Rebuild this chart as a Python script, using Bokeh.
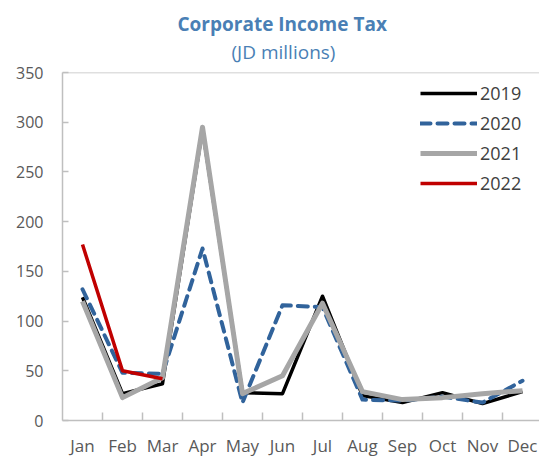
from bokeh.plotting import figure
from bokeh.models import (Range1d, FixedTicker, Title, Legend, LegendItem, Span)
from bokeh.embed import file_html
from bokeh.resources import INLINE

months = ["Jan", "Feb", "Mar", "Apr", "May", "Jun", "Jul", "Aug", "Sep", "Oct", "Nov", "Dec"]
y2019 = [124, 27, 37, 293, 28, 27, 125, 25, 18, 28, 17, 29]
y2020 = [132, 48, 47, 173, 18, 116, 114, 21, 20, 24, 18, 40]
y2021 = [120, 23, 43, 295, 27, 45, 118, 29, 21, 23, 27, 30]
y2022 = [177, 50, 42]
y_ticks = [0, 50, 100, 150, 200, 250, 300, 350]

xpos = [i + 0.5 for i in range(len(months))]

p = figure(width=539, height=459, output_backend="svg", toolbar_location=None,
           x_range=Range1d(0, 11.925), y_range=Range1d(0, 350),
           min_border_left=62, min_border_right=0, min_border_bottom=37, min_border_top=72)
p.outline_line_color = None
p.xgrid.visible = False
p.ygrid.visible = False
p.background_fill_color = "white"

FONT = "Open Sans"
TITLE_COLOR = "#4a7fb5"
spacer = Title(text=" ", text_font_size="5px", standoff=0)
sub = Title(text="(JD millions)", align="left", offset=169, text_font=FONT,
            text_font_size="19px", text_font_style="normal", text_color=TITLE_COLOR,
            standoff=0)
main = Title(text="Corporate Income Tax", align="left", offset=115, text_font=FONT,
             text_font_size="19px", text_font_style="bold", text_color=TITLE_COLOR,
             standoff=0)
p.add_layout(spacer, "above")
p.add_layout(sub, "above")
p.add_layout(main, "above")

# top border line
p.add_layout(Span(location=350, dimension="width", line_color="#bfbfbf", line_width=1.5))

# x axis
xa = p.xaxis[0]
xa.ticker = FixedTicker(ticks=xpos, minor_ticks=[i for i in range(1, 12)])
xa.major_label_overrides = {x: m for x, m in zip(xpos, months)}
xa.major_tick_line_color = None
xa.minor_tick_in = 8
xa.minor_tick_out = 0
xa.minor_tick_line_color = "#bfbfbf"
xa.minor_tick_line_width = 1.5
xa.axis_line_color = "#bfbfbf"
xa.axis_line_width = 1.5
xa.major_label_text_font = FONT
xa.major_label_text_font_size = "17px"
xa.major_label_text_color = "#595959"
xa.major_label_standoff = 7

ya = p.yaxis[0]
ya.ticker = FixedTicker(ticks=y_ticks)
ya.major_tick_in = 6
ya.major_tick_out = 0
ya.major_tick_line_color = "#bfbfbf"
ya.major_tick_line_width = 1.5
ya.minor_tick_line_color = None
ya.axis_line_color = "#bfbfbf"
ya.axis_line_width = 1.5
ya.major_label_text_font = FONT
ya.major_label_text_font_size = "16px"
ya.major_label_text_color = "#595959"
ya.major_label_standoff = 19

r19 = p.line(xpos, y2019, line_color="black", line_width=3.5, line_join="round")
r20 = p.line(xpos, y2020, line_color="#31639b", line_width=4, line_dash="10 7",
             line_cap="round", line_join="round")
r21 = p.line(xpos, y2021, line_color="#a6a6a6", line_width=5, line_join="round")
r22 = p.line(xpos[:len(y2022)], y2022, line_color="#c00000", line_width=3.5, line_join="round")

legend = Legend(items=[LegendItem(label="2019", renderers=[r19]),
                       LegendItem(label="2020", renderers=[r20]),
                       LegendItem(label="2021", renderers=[r21]),
                       LegendItem(label="2022", renderers=[r22])],
                location="top_right", margin=9, padding=6, spacing=6,
                glyph_width=57, glyph_height=20, label_height=20, label_width=50,
                label_standoff=3,
                label_text_font=FONT, label_text_font_size="18px", label_text_color="#404040",
                border_line_color=None, background_fill_alpha=0)
p.add_layout(legend)

open("out.html", "w").write(file_html(p, INLINE))
